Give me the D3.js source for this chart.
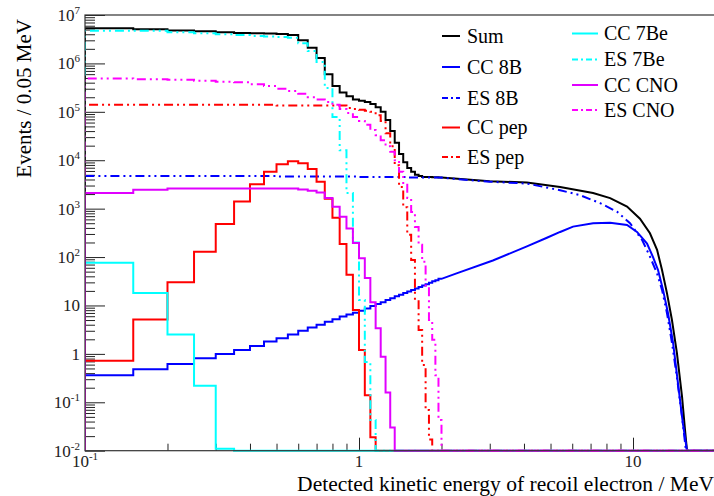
<!DOCTYPE html>
<html>
<head>
<meta charset="utf-8">
<script src="https://cdn.jsdelivr.net/npm/d3@7"></script>
<style>
  body { margin: 0; background: #fff; }
  svg { display: block; font-family: "Liberation Serif", "DejaVu Serif", serif; }
</style>
</head>
<body>
<svg width="714" height="496"></svg>
<script>
// **** Data (events per 0.05 MeV bin) ****

// low edges of the 0.05 MeV bins drawn as steps (0.10 ... 1.95)
var binWidth = 0.05;
var binLow = d3.range(38).map(function(i) { return +(0.1 + i * binWidth).toFixed(2); });

var sumBins = [5.3e6, 5.1e6, 4.8e6, 4.6e6, 4.4e6, 4.25e6, 4.2e6, 4.15e6, 4.05e6, 3.85e6,
    3.0e6, 2.1e6, 1.3e6, 6.0e5, 3.4e5, 2.5e5, 2.1e5, 1.8e5, 1.7e5, 1.6e5,
    1.45e5, 1.25e5, 1.0e5, 6.8e4, 4.0e4, 2.3e4, 1.35e4, 9.1e3, 6.9e3, 5.8e3,
    5.0e3, 4.7e3, 4.5e3, 4.5e3, 4.5e3, 4.45e3, 4.45e3, 4.4e3];
var sumTail = [[2.0, 4.4e3], [3.0, 3.7e3], [4.1, 3.45e3], [5.42, 2.8e3], [7.15, 2.1e3],
    [8.25, 1.65e3], [9.51, 1.1e3], [10.6, 620], [11.53, 310], [12.24, 141], [12.76, 54],
    [13.3, 18], [13.87, 5.0], [14.46, 1.05], [15.1, 0.13], [15.48, 0.027], [15.74, 0.01]];

var cc8bBins = [0.36, 0.48, 0.62, 0.81, 1.0, 1.2, 1.45, 1.8, 2.1, 2.5,
    3.0, 3.5, 4.0, 4.6, 5.2, 5.9, 6.5, 7.1, 7.8, 8.7,
    9.8, 10.7, 11.7, 12.9, 14.1, 15.5, 16.6, 18.2, 19.5, 20.9,
    22.4, 24, 25.7, 27.5, 29.5, 31.6, 33, 35.5];
var cc8bTail = [[2.0, 35.5], [2.27, 46], [3.08, 85], [4.1, 166], [4.85, 250], [5.42, 330],
    [6.04, 425], [7.15, 500], [8.25, 510], [9.51, 460], [10.34, 330], [11.25, 190],
    [11.83, 100], [12.34, 54], [12.87, 21], [13.42, 6.9], [14.0, 1.7], [14.59, 0.25],
    [15.2, 0.037], [15.74, 0.01]];

var es8bBins = [4700, 4700, 4700, 4700, 4700, 4700, 4700, 4700, 4600, 4600,
    4600, 4600, 4600, 4600, 4600, 4600, 4600, 4600, 4500, 4500,
    4500, 4500, 4500, 4500, 4500, 4500, 4500, 4500, 4400, 4400,
    4400, 4400, 4400, 4400, 4400, 4400, 4400, 4400];
var es8bTail = [[2.0, 4.35e3], [3.0, 3.6e3], [4.1, 3.3e3], [5.42, 2.4e3], [6.41, 1.9e3],
    [7.58, 1.3e3], [8.74, 865], [9.75, 500], [10.8, 224], [11.53, 102], [12.24, 46],
    [12.76, 21], [13.3, 7.0], [13.87, 1.7], [14.46, 0.33], [15.1, 0.05], [15.6, 0.01]];

var ccPepBins = [0.72, 5.1, 30, 128, 480, 1400, 3200, 5800, 8300, 9500,
    8700, 6600, 3600, 1600, 650, 186, 43, 8.1, 1.2, 0.14,
    0.019, 0, 0, 0, 0, 0, 0, 0, 0, 0,
    0, 0, 0, 0, 0, 0, 0, 0];

var esPepBins = [1.4e5, 1.4e5, 1.4e5, 1.4e5, 1.4e5, 1.4e5, 1.4e5, 1.4e5, 1.35e5, 1.35e5,
    1.35e5, 1.35e5, 1.35e5, 1.35e5, 1.35e5, 1.35e5, 1.2e5, 1.15e5, 1.1e5, 1.05e5,
    1.0e5, 8.5e4, 6.5e4, 3.6e4, 1.95e4, 7.9e3, 2.8e3, 1070, 290, 87,
    13, 3.1, 0.59, 0.069, 0.017, 0, 0, 0];

var cc7BeBins = [76, 18, 2.5, 0.22, 0.011, 0, 0, 0, 0, 0,
    0, 0, 0, 0, 0, 0, 0, 0, 0, 0,
    0, 0, 0, 0, 0, 0, 0, 0, 0, 0,
    0, 0, 0, 0, 0, 0, 0, 0];

var es7BeBins = [4.75e6, 4.7e6, 4.4e6, 4.2e6, 4.0e6, 3.85e6, 3.7e6, 3.6e6, 3.5e6, 3.4e6,
    2.6e6, 1.8e6, 1.07e6, 3.1e5, 7.8e4, 1.6e4, 2100, 200, 13, 0.68,
    0.043, 0, 0, 0, 0, 0, 0, 0, 0, 0,
    0, 0, 0, 0, 0, 0, 0, 0];

var ccCnoBins = [2100, 2450, 2600, 2600, 2600, 2600, 2600, 2600, 2600, 2600,
    2500, 2350, 2150, 1650, 1100, 680, 390, 195, 95, 37,
    11.7, 3.4, 0.87, 0.16, 0.03, 0, 0, 0, 0, 0,
    0, 0, 0, 0, 0, 0, 0, 0];

var esCnoBins = [4.9e5, 4.7e5, 4.6e5, 4.4e5, 4.2e5, 4.1e5, 3.7e5, 3.4e5, 3.0e5, 2.7e5,
    2.35e5, 2.0e5, 1.8e5, 1.6e5, 1.4e5, 1.15e5, 9.5e4, 7.8e4, 6.5e4, 5.4e4,
    4.2e4, 3.3e4, 2.6e4, 1.95e4, 1.5e4, 1.0e4, 5800, 3100, 1650, 850,
    420, 180, 80, 26, 5.0, 1.95, 0.36, 0.043];

// tick labels: [value, base, exponent]
var yTickLabels = [[1e7, '10', '7'], [1e6, '10', '6'], [1e5, '10', '5'], [1e4, '10', '4'],
    [1e3, '10', '3'], [1e2, '10', '2'], [10, '10', ''], [1, '1', ''], [0.1, '10', '-1'], [0.01, '10', '-2']];
var xTickLabels = [[0.1, '10', '-1'], [1, '1', ''], [10, '10', '']];

// **** Scales ****

var xMin = 0.1, xMax = 20, yMin = 0.01, yMax = 1e7;
var plotLeft = 85, plotRight = 715.5, plotTop = 15, plotBottom = 450.7;

var xScale = d3.scaleLog().domain([xMin, xMax]).range([plotLeft, plotRight]);
var yScale = d3.scaleLog().domain([yMin, yMax]).range([plotBottom, plotTop]);

var svg = d3.select('svg');

// **** Histograms ****

var series = [
    {name: 'Sum',     bins: sumBins,   tail: sumTail,  color: '#000000', dash: false},
    {name: 'CC 8B',   bins: cc8bBins,  tail: cc8bTail, color: '#0000ff', dash: false},
    {name: 'ES 8B',   bins: es8bBins,  tail: es8bTail, color: '#0000ff', dash: true},
    {name: 'CC pep',  bins: ccPepBins, tail: null,     color: '#ff0000', dash: false},
    {name: 'ES pep',  bins: esPepBins, tail: null,     color: '#ff0000', dash: true},
    {name: 'CC 7Be',  bins: cc7BeBins, tail: null,     color: '#00ffff', dash: false},
    {name: 'ES 7Be',  bins: es7BeBins, tail: null,     color: '#00ffff', dash: true},
    {name: 'CC CNO',  bins: ccCnoBins, tail: null,     color: '#e000ff', dash: false},
    {name: 'ES CNO',  bins: esCnoBins, tail: null,     color: '#ff00ff', dash: true}
];
var dashPattern = '9,4,2,4,2,4';

function outline(bins, tail) {
    var pts = [[binLow[0], yMin]];
    bins.forEach(function(v, i) {
        pts.push([binLow[i], v], [binLow[i] + binWidth, v]);
    });
    if (tail) tail.forEach(function(p) { pts.push(p); });
    else pts.push([binLow[bins.length - 1] + binWidth, yMin]);
    pts.push([xMax, yMin]);
    return pts;
}

var line = d3.line()
    .x(function(d) { return xScale(d[0]); })
    .y(function(d) { return yScale(Math.max(d[1], yMin)); });

svg.append('clipPath').attr('id', 'plot-clip')
    .append('rect')
    .attr('x', plotLeft).attr('y', plotTop - 2)
    .attr('width', plotRight - plotLeft).attr('height', plotBottom - plotTop + 4);

// **** Axes ****

var yMajor = d3.range(-2, 8).map(function(d) { return Math.pow(10, d); });
var yMinor = [];
d3.range(-2, 7).forEach(function(d) {
    d3.range(2, 10).forEach(function(m) { yMinor.push(m * Math.pow(10, d)); });
});
var xMajor = [0.1, 1, 10];
var xMinor = [0.2, 0.3, 0.4, 0.5, 0.6, 0.7, 0.8, 0.9, 2, 3, 4, 5, 6, 7, 8, 9];

function styleAxis(g) {
    g.select('.domain').remove();
    g.selectAll('.tick line').attr('stroke', '#222').attr('stroke-width', 1);
}

svg.append('g').attr('transform', 'translate(' + plotLeft + ',0)')
    .call(d3.axisLeft(yScale).tickValues(yMinor).tickSize(-10).tickFormat(''))
    .call(styleAxis);
svg.append('g').attr('transform', 'translate(' + plotLeft + ',0)')
    .call(d3.axisLeft(yScale).tickValues(yMajor).tickSize(-20).tickFormat(''))
    .call(styleAxis);
svg.append('g').attr('transform', 'translate(0,' + plotBottom + ')')
    .call(d3.axisBottom(xScale).tickValues(xMinor).tickSize(-7).tickFormat(''))
    .call(styleAxis);
svg.append('g').attr('transform', 'translate(0,' + plotBottom + ')')
    .call(d3.axisBottom(xScale).tickValues(xMajor).tickSize(-13).tickFormat(''))
    .call(styleAxis);

// histogram lines
svg.append('g').attr('clip-path', 'url(#plot-clip)')
    .selectAll('path')
    .data(series)
    .enter()
    .append('path')
    .attr('d', function(d) { return line(outline(d.bins, d.tail)); })
    .attr('fill', 'none')
    .attr('stroke', function(d) { return d.color; })
    .attr('stroke-width', 2)
    .attr('stroke-linejoin', 'miter')
    .attr('stroke-dasharray', function(d) { return d.dash ? dashPattern : null; });

// frame
svg.append('rect')
    .attr('x', plotLeft).attr('y', plotTop)
    .attr('width', plotRight - plotLeft).attr('height', plotBottom - plotTop)
    .attr('fill', 'none').attr('stroke', '#333').attr('stroke-width', 1.2);

// tick labels
function labelText(sel, d) {
    sel.append('tspan').text(d[1]);
    if (d[2]) sel.append('tspan').attr('dy', -7).attr('font-size', 11).text(d[2]);
}

svg.append('g').selectAll('text')
    .data(yTickLabels)
    .enter()
    .append('text')
    .attr('x', 80)
    .attr('y', function(d) { return yScale(d[0]) + 6; })
    .attr('text-anchor', 'end')
    .attr('font-size', 17)
    .attr('fill', '#222')
    .each(function(d) { labelText(d3.select(this), d); });

svg.append('g').selectAll('text')
    .data(xTickLabels)
    .enter()
    .append('text')
    .attr('x', function(d) { return xScale(d[0]); })
    .attr('y', 467)
    .attr('text-anchor', 'middle')
    .attr('font-size', 17)
    .attr('fill', '#222')
    .each(function(d) { labelText(d3.select(this), d); });

// axis titles
svg.append('text')
    .attr('x', 714)
    .attr('y', 491)
    .attr('text-anchor', 'end')
    .attr('font-size', 21.5)
    .text('Detected kinetic energy of recoil electron / MeV');

svg.append('text')
    .attr('transform', 'translate(31,19) rotate(-90)')
    .attr('text-anchor', 'end')
    .attr('font-size', 21)
    .text('Events / 0.05 MeV');

// **** Legend ****

var legendCols = [
    {names: ['Sum', 'CC 8B', 'ES 8B', 'CC pep', 'ES pep'], x1: 442, x2: 460, tx: 467, ys: [36, 67, 98, 127.5, 157]},
    {names: ['CC 7Be', 'ES 7Be', 'CC CNO', 'ES CNO'], x1: 572, x2: 598, tx: 604, ys: [33.5, 59.5, 85, 110]}
];

legendCols.forEach(function(col) {
    col.names.forEach(function(name, i) {
        var s = series.find(function(d) { return d.name === name; });
        var g = svg.append('g');
        g.append('line')
            .attr('x1', col.x1).attr('x2', col.x2)
            .attr('y1', col.ys[i]).attr('y2', col.ys[i])
            .attr('stroke', s.color).attr('stroke-width', 2)
            .attr('stroke-dasharray', s.dash ? '6,3,2,3' : null);
        g.append('text')
            .attr('x', col.tx).attr('y', col.ys[i] + 6.5)
            .attr('font-size', 20)
            .text(name);
    });
});
</script>
</body>
</html>
